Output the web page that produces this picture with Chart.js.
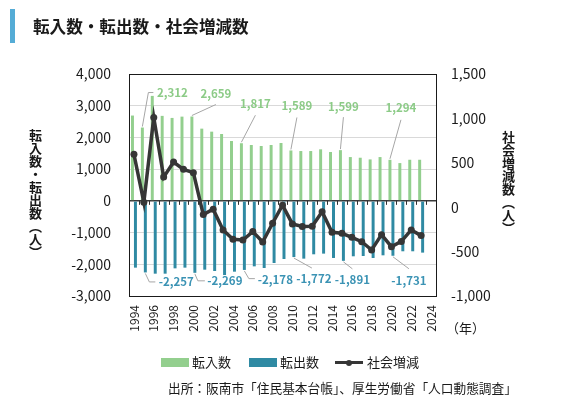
<!DOCTYPE html>
<html lang="ja">
<head>
<meta charset="utf-8">
<script src="https://cdn.jsdelivr.net/npm/chart.js@4/dist/chart.umd.min.js"></script>
<style>
  html, body { margin: 0; padding: 0; background: #fff; }
  #wrap { position: relative; width: 564px; height: 397px; overflow: hidden; font-family: "Noto Sans CJK JP", "Noto Sans", sans-serif; color: #1a1a1a; }
  #c { position: absolute; left: 0; top: 0; }
  .abs { position: absolute; white-space: nowrap; }
  #titlebar { left: 10px; top: 9px; width: 5px; height: 34px; background: #55acd6; }
  #title { left: 33px; top: 15px; font-size: 16.6px; font-weight: bold; line-height: 22px; }
  .vtitle { writing-mode: vertical-rl; font-size: 13px; font-weight: bold; line-height: 13px; }
  #ltitle { left: 29px; top: 129px; }
  #rtitle { left: 502px; top: 131px; }
  #nen { left: 446px; top: 319px; font-size: 13px; line-height: 18px; }
  #legend { left: 161px; top: 353px; height: 18px; font-size: 13px; line-height: 18px; }
  .li { position: absolute; top: 0; }
  .sw { position: absolute; top: 5px; width: 28px; height: 9px; }
  #source { left: 168px; top: 379px; font-size: 12.7px; line-height: 18px; }
</style>
</head>
<body>
<div id="wrap">
  <canvas id="c" width="564" height="397"></canvas>
  <div class="abs" id="titlebar"></div>
  <div class="abs" id="title">転入数・転出数・社会増減数</div>
  <div class="abs vtitle" id="ltitle">転入数・転出数（人）</div>
  <div class="abs vtitle" id="rtitle">社会増減数（人）</div>
  <div class="abs" id="nen">（年）</div>
  <div class="abs" id="legend"></div>
  <div class="abs" id="source">出所：阪南市「住民基本台帳」、厚生労働省「人口動態調査」</div>
</div>
<script>
// ---- data ----
const years = ["1994","1995","1996","1997","1998","1999","2000","2001","2002","2003","2004","2005","2006","2007","2008","2009","2010","2011","2012","2013","2014","2015","2016","2017","2018","2019","2020","2021","2022","2023","2024"];
const inMigration = [2690,2312,3310,2680,2615,2656,2659,2277,2182,2108,1887,1817,1761,1729,1761,1824,1589,1571,1571,1625,1540,1599,1381,1360,1307,1381,1294,1191,1296,1296,null];
const outMigration = [-2106,-2257,-2296,-2296,-2128,-2106,-2269,-2170,-2212,-2339,-2233,-2178,-2065,-2117,-1960,-1833,-1772,-1822,-1685,-1664,-1801,-1891,-1748,-1738,-1801,-1717,-1731,-1590,-1590,-1632,null];
const socialChange = [596,55,1011,339,509,426,389,-83,-23,-256,-362,-369,-275,-392,-181,23,-188,-218,-215,-52,-283,-294,-339,-388,-482,-309,-445,-385,-256,-320,null];
const leftTicks = [-3000,-2000,-1000,0,1000,2000,3000,4000];
const rightTicks = [-1000,-500,0,500,1000,1500];
const seriesNames = ["転入数","転出数","社会増減"];
const labeledYears = ["1995","2000","2005","2010","2015","2020"];

// ---- styles / annotation placement (offsets from bar end, px) ----
const colIn = "#93cf8e", colOut = "#2f8aa3", colLine = "#363636";
const colInText = "#8ccb87", colOutText = "#3b93b4";
const inLeader = {
  "1995": {path: [[0,-1],[6,-35],[11,-35]], label: [30,-35]},
  "2000": {path: [[0,-1],[24,-12]], label: [24,-23]},
  "2005": {path: [[0,-1],[14,-28]], label: [14,-40]},
  "2010": {path: [[0,-1],[6,-33]], label: [6,-45]},
  "2015": {path: [[0,-1],[3,-33]], label: [3,-44]},
  "2020": {path: [[0,-1],[11,-40]], label: [11,-52]}
};
const outLeader = {
  "1995": {path: [[0,1],[4,9.5],[10,9.5]], label: [31,9]},
  "2000": {path: [[0,1],[3,8],[10,8]], label: [30,8]},
  "2005": {path: [[0,1],[4.5,8.7],[10.5,8.7]], label: [31,10]},
  "2010": {path: [[0,1],[18,11]], label: [20,22]},
  "2015": {path: [[0,1],[9,8]], label: [9,19]},
  "2020": {path: [[0,1],[16,13]], label: [16,25]}
};

// pick a narrow font for data labels if available
const labelFont = (function(){
  const cv = document.createElement('canvas').getContext('2d');
  const t = '-2,178 1,589';
  cv.font = 'bold 14px monospace'; const a = cv.measureText(t).width;
  cv.font = 'bold 14px "Liberation Sans Narrow", monospace'; const b = cv.measureText(t).width;
  if (Math.abs(a - b) > 0.5) return 'bold 14px "Liberation Sans Narrow", sans-serif';
  return 'bold 11.5px "Noto Sans CJK JP", sans-serif';
})();

// legend (HTML)
(function(){
  const lg = document.getElementById('legend');
  const items = [
    {x:0, type:'box', color: colIn, name: seriesNames[0]},
    {x:88, type:'box', color: colOut, name: seriesNames[1]},
    {x:174, type:'line', color: colLine, name: seriesNames[2]}
  ];
  items.forEach(it => {
    const d = document.createElement('div');
    d.className = 'li'; d.style.left = it.x + 'px';
    if (it.type === 'box') {
      d.innerHTML = '<span class="sw" style="left:0;background:'+it.color+'"></span><span style="position:absolute;left:31px;top:0">'+it.name+'</span>';
    } else {
      d.innerHTML = '<span style="position:absolute;left:0;top:8px;width:28px;height:3px;background:'+it.color+'"></span>' +
        '<span style="position:absolute;left:11px;top:6.5px;width:6px;height:6px;border-radius:50%;background:'+it.color+'"></span>' +
        '<span style="position:absolute;left:32px;top:0">'+it.name+'</span>';
    }
    lg.appendChild(d);
  });
})();

const fmt = new Intl.NumberFormat('en-US');

const annot = {
  id: 'annot',
  afterDraw(chart) {
    const ctx = chart.ctx;
    const xs = chart.scales.x, ys = chart.scales.y;
    const y0 = ys.getPixelForValue(0);
    // small tick marks on zero line at category boundaries
    ctx.save();
    ctx.strokeStyle = '#303030'; ctx.lineWidth = 1;
    const n = years.length, w = (xs.right - xs.left) / n;
    for (let i = 1; i < n; i++) {
      const x = Math.round(xs.left + i * w) + 0.5;
      ctx.beginPath(); ctx.moveTo(x, y0); ctx.lineTo(x, y0 + 4); ctx.stroke();
    }
    ctx.restore();
    // data labels with leader lines
    const drawSet = (dsIndex, leaders, color, data) => {
      const meta = chart.getDatasetMeta(dsIndex);
      labeledYears.forEach(yr => {
        const i = years.indexOf(yr);
        const el = meta.data[i];
        const L = leaders[yr];
        if (!el || !L) return;
        ctx.save();
        ctx.strokeStyle = '#a6a6a6'; ctx.lineWidth = 1;
        ctx.beginPath();
        L.path.forEach((p, k) => {
          const px = el.x + p[0], py = el.y + p[1];
          if (k === 0) ctx.moveTo(px, py); else ctx.lineTo(px, py);
        });
        ctx.stroke();
        ctx.fillStyle = color;
        ctx.font = labelFont;
        ctx.textAlign = 'center'; ctx.textBaseline = 'middle';
        ctx.fillText(fmt.format(data[i]), el.x + L.label[0], el.y + L.label[1]);
        ctx.restore();
      });
    };
    drawSet(0, inLeader, colInText, inMigration);
    drawSet(1, outLeader, colOutText, outMigration);
  }
};

new Chart(document.getElementById('c'), {
  type: 'bar',
  data: {
    labels: years,
    datasets: [
      {label: seriesNames[0], data: inMigration, backgroundColor: colIn, yAxisID: 'y', order: 2,
       categoryPercentage: 0.6, barPercentage: 1.0, grouped: true},
      {label: seriesNames[1], data: outMigration, backgroundColor: colOut, yAxisID: 'y', order: 2,
       categoryPercentage: 0.6, barPercentage: 1.0, grouped: true},
      {type: 'line', label: seriesNames[2], data: socialChange, yAxisID: 'y1', order: 0,
       borderColor: colLine, backgroundColor: colLine, borderWidth: 3.5, pointRadius: 3.5,
       pointBackgroundColor: colLine, pointBorderWidth: 0, tension: 0}
    ]
  },
  options: {
    responsive: false, animation: false, devicePixelRatio: 1,
    locale: 'en-US',
    layout: {padding: {top: 74, left: 0, right: 0, bottom: 0}},
    plugins: {legend: {display: false}, tooltip: {enabled: false}, title: {display: false}},
    scales: {
      x: {
        offset: true,
        grid: {display: true, color: 'rgba(0,0,0,0)', drawTicks: false},
        border: {display: true, color: '#1a1a1a', width: 1},
        ticks: {
          autoSkip: false, minRotation: 90, maxRotation: 90, padding: 9,
          color: '#1a1a1a', font: {family: '"Noto Sans CJK JP", sans-serif', size: 12},
          callback: function(v, i) { return i % 2 === 0 ? years[i] : ''; }
        },
        afterFit: s => { s.height = 101; }
      },
      y: {
        position: 'left', min: -3000, max: 4000,
        afterBuildTicks: s => { s.ticks = leftTicks.map(v => ({value: v})); },
        grid: {
          drawTicks: false,
          color: c => c.tick.value === 0 ? '#3a3a3a' : (c.tick.value === 4000 ? '#1a1a1a' : '#d9d9d9'),
          lineWidth: c => c.tick.value === 0 ? 1.5 : 1
        },
        border: {display: true, color: '#1a1a1a', width: 1},
        ticks: {padding: 18, color: '#1a1a1a', font: {family: '"Noto Sans CJK JP", sans-serif', size: 14},
          callback: v => fmt.format(v)},
        afterFit: s => { s.width = 129; }
      },
      y1: {
        position: 'right', min: -1000, max: 1500,
        afterBuildTicks: s => { s.ticks = rightTicks.map(v => ({value: v})); },
        grid: {drawOnChartArea: false, drawTicks: false},
        border: {display: true, color: '#1a1a1a', width: 1},
        ticks: {padding: 15, color: '#1a1a1a', font: {family: '"Noto Sans CJK JP", sans-serif', size: 14},
          callback: v => fmt.format(v)},
        afterFit: s => { s.width = 128; }
      }
    }
  },
  plugins: [annot]
});
</script>
</body>
</html>
